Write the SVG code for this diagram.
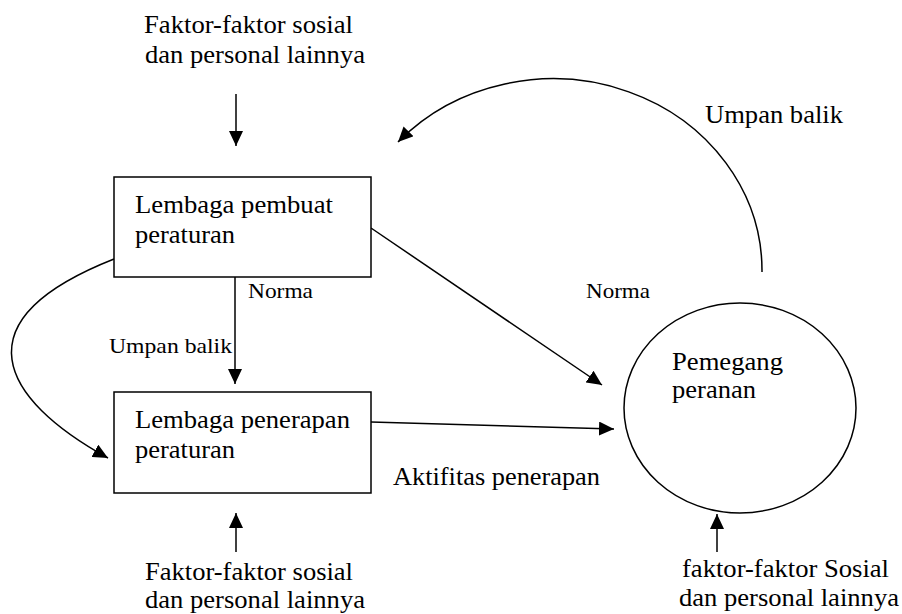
<svg xmlns="http://www.w3.org/2000/svg" width="902" height="614" viewBox="0 0 902 614">
<defs>
<marker id="ah" markerUnits="userSpaceOnUse" markerWidth="16" markerHeight="14" refX="15" refY="7" orient="auto">
<path d="M0,0 L15,7 L0,14 z" fill="#000"/>
</marker>
<style>
text{font-family:"Liberation Serif","Times New Roman",serif;fill:#000}
.big{font-size:24.5px}
.sm{font-size:21px}
.node{fill:#fff;stroke:#000;stroke-width:1.5}
.con{fill:none;stroke:#000;stroke-width:1.5;marker-end:url(#ah)}
</style>
</defs>
<rect width="902" height="614" fill="#fff"/>
<g id="connectors">
<line class="con" x1="236" y1="94" x2="236" y2="146"/>
<line class="con" x1="235" y1="277" x2="235" y2="384"/>
<line class="con" x1="236" y1="552" x2="236" y2="513"/>
<line class="con" x1="717" y1="552" x2="717" y2="514"/>
<line class="con" x1="371" y1="228" x2="602" y2="385"/>
<line class="con" x1="371" y1="422" x2="614" y2="429"/>
<path class="con" d="M114,259 C-43,321 1,399 108,458"/>
<path class="con" d="M762,272 A209,192 0 0 0 398,142"/>
</g>
<g id="top-factors">
<text class="big" x="144" y="33" textLength="209" lengthAdjust="spacingAndGlyphs">Faktor-faktor sosial</text>
<text class="big" x="145" y="63" textLength="220" lengthAdjust="spacingAndGlyphs">dan personal lainnya</text>
</g>
<g id="lembaga-pembuat">
<rect class="node" x="114" y="177" width="257" height="100"/>
<text class="big" x="135" y="213" textLength="198" lengthAdjust="spacingAndGlyphs">Lembaga pembuat</text>
<text class="big" x="135" y="243" textLength="100" lengthAdjust="spacingAndGlyphs">peraturan</text>
</g>
<g id="lembaga-penerapan">
<rect class="node" x="114" y="392" width="257" height="101"/>
<text class="big" x="135" y="428" textLength="215" lengthAdjust="spacingAndGlyphs">Lembaga penerapan</text>
<text class="big" x="135" y="458" textLength="100" lengthAdjust="spacingAndGlyphs">peraturan</text>
</g>
<g id="pemegang-peranan">
<ellipse class="node" cx="740" cy="408" rx="116" ry="105"/>
<text class="big" x="672" y="370" textLength="111" lengthAdjust="spacingAndGlyphs">Pemegang</text>
<text class="big" x="672" y="398" textLength="84" lengthAdjust="spacingAndGlyphs">peranan</text>
</g>
<g id="bottom-left-factors">
<text class="big" x="145" y="580" textLength="208" lengthAdjust="spacingAndGlyphs">Faktor-faktor sosial</text>
<text class="big" x="145" y="608" textLength="220" lengthAdjust="spacingAndGlyphs">dan personal lainnya</text>
</g>
<g id="bottom-right-factors">
<text class="big" x="682" y="577" textLength="207" lengthAdjust="spacingAndGlyphs">faktor-faktor Sosial</text>
<text class="big" x="679" y="606" textLength="220" lengthAdjust="spacingAndGlyphs">dan personal lainnya</text>
</g>
<g id="labels">
<text class="sm" x="248" y="298" textLength="65" lengthAdjust="spacingAndGlyphs">Norma</text>
<text class="sm" x="109" y="353" textLength="123" lengthAdjust="spacingAndGlyphs">Umpan balik</text>
<text class="sm" x="586" y="298" textLength="64" lengthAdjust="spacingAndGlyphs">Norma</text>
<text class="big" x="705" y="123" textLength="138" lengthAdjust="spacingAndGlyphs">Umpan balik</text>
<text class="big" x="393" y="485" textLength="207" lengthAdjust="spacingAndGlyphs">Aktifitas penerapan</text>
</g>
</svg>
